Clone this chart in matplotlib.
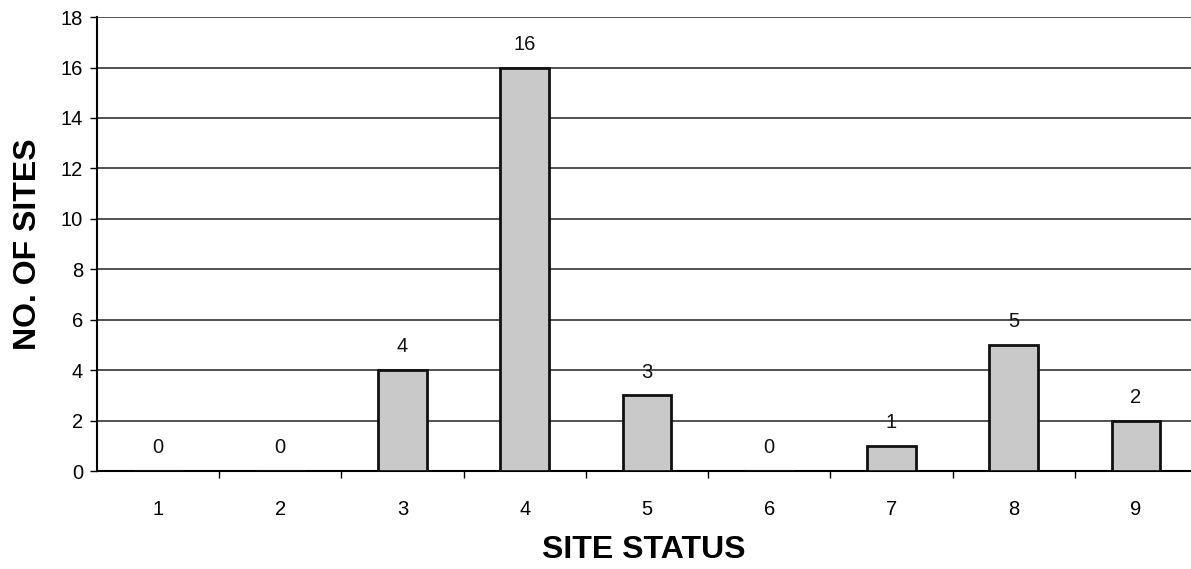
import matplotlib
matplotlib.use("Agg")
import matplotlib.pyplot as plt
import numpy as np

categories = ["1", "2", "3", "4", "5", "6", "7", "8", "9"]
values = [0, 0, 4, 16, 3, 0, 1, 5, 2]
yticks = [0, 2, 4, 6, 8, 10, 12, 14, 16, 18]

plt.rcParams['font.family'] = ['Liberation Sans', 'DejaVu Sans']

fig = plt.figure(figsize=(11.91, 5.69), dpi=100)
ax = fig.add_axes([0.0814, 0.172, 0.9186, 0.798])

x = np.arange(1, len(categories) + 1)
ax.bar(x, values, width=0.4, color="#c9c9c9", edgecolor="#111111", linewidth=2, zorder=3)

for xi, v in zip(x, values):
    ax.annotate(str(v), (xi, v), xytext=(0, 10), textcoords="offset points",
                ha="center", va="bottom", fontsize=14.5, color="#111111")

ax.set_xlim(0.5, 9.45)
ax.set_ylim(0, 18)
ax.set_yticks(yticks)
ax.grid(axis="y", color="#222222", linewidth=1.1, zorder=0)
ax.set_axisbelow(True)

ax.set_xticks(x)
ax.set_xticklabels(categories, fontsize=14.5)
ax.tick_params(axis="x", length=0, pad=21)
ax.set_xticks(np.arange(1.5, 9.5, 1), minor=True)
ax.tick_params(axis="x", which="minor", length=5, direction="out", width=1)
ax.tick_params(axis="y", length=5, direction="out", width=1, labelsize=14.5, pad=5)

for s in ["top", "right"]:
    ax.spines[s].set_visible(False)
ax.spines["left"].set_linewidth(1.5)
ax.spines["bottom"].set_linewidth(1.5)

ax.set_ylabel("NO. OF SITES", fontsize=23, fontweight="bold", labelpad=13)
ax.set_xlabel("SITE STATUS", fontsize=23, fontweight="bold", labelpad=11)

fig.savefig("out.png", dpi=100)
